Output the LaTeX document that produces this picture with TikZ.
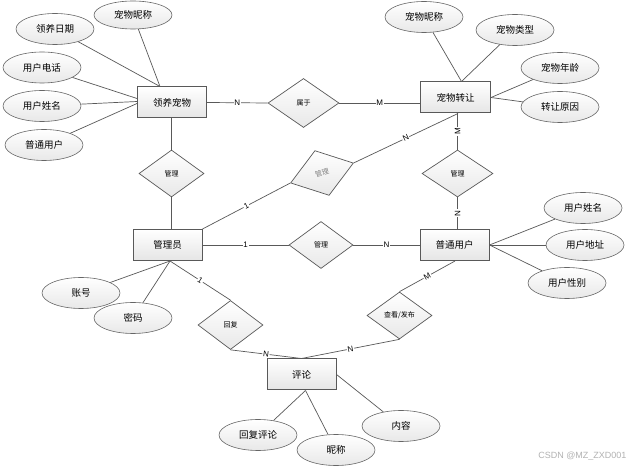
\documentclass[tikz,border=0pt]{standalone}
\usepackage{fontspec}
\setmainfont{Liberation Sans}
\newfontfamily\cjk{Noto Sans CJK SC}
\usetikzlibrary{shapes.geometric}
\begin{document}
\begin{tikzpicture}[x=1pt,y=-1pt,
 ent/.style={draw=black!65, line width=1pt, rectangle, minimum width=69pt, minimum height=31pt, inner sep=0pt, top color=white, bottom color=black!10, font=\cjk\fontsize{9.5}{10}\selectfont},
 attr/.style={draw=black!60, line width=0.6pt, ellipse, minimum width=78pt, minimum height=31pt, inner sep=0pt, top color=white, bottom color=black!9, font=\cjk\fontsize{9.5}{10}\selectfont},
 rel/.style={draw=black!65, line width=0.7pt, diamond, inner sep=0pt, minimum width=65pt, minimum height=47pt, top color=white, bottom color=black!9, font=\cjk\fontsize{7}{8}\selectfont},
 conn/.style={draw=black!65, line width=0.7pt},
 lab/.style={fill=white, inner sep=0.8pt, font=\fontsize{8}{9}\selectfont}
]
\useasboundingbox (0,0) rectangle (635,470);
\fill[white] (0,0) rectangle (635,470);
% entities
\node[ent] (E1) at (172,102.5) {领养宠物};
\node[ent, minimum width=70pt] (E2) at (455.5,97.5) {宠物转让};
\node[ent] (E3) at (167.5,245) {管理员};
\node[ent] (E4) at (454.5,245) {普通用户};
\node[ent] (E5) at (301.5,374.5) {评论};
% attributes
\node[attr, minimum height=28pt] (a1) at (133,15) {宠物昵称};
\node[attr] (a2) at (55,29) {领养日期};
\node[attr] (a3) at (42,67.5) {用户电话};
\node[attr] (a4) at (42,106) {用户姓名};
\node[attr] (a5) at (44,145) {普通用户};
\node[attr] (b1) at (424,17) {宠物昵称};
\node[attr] (b2) at (515,30) {宠物类型};
\node[attr] (b3) at (560,68) {宠物年龄};
\node[attr] (b4) at (560,107) {转让原因};
\node[attr] (c1) at (81,293) {账号};
\node[attr] (c2) at (133,318) {密码};
\node[attr] (d1) at (583,208) {用户姓名};
\node[attr] (d2) at (585,245) {用户地址};
\node[attr] (d3) at (567,283) {用户性别};
\node[attr] (f1) at (258,435) {回复评论};
\node[attr] (f2) at (336,450) {昵称};
\node[attr] (f3) at (401,426) {内容};
% relationships
\node[rel, minimum width=71pt, minimum height=49pt] (r1) at (303.5,103) {属于};
\node[rel] (r2) at (171.5,173.5) {管理};
\node[rel, rotate=17.6, minimum width=66pt, text=black!50] (r3) at (322,173) {管理};
\node[rel, minimum width=71pt] (r4) at (457.5,173.5) {管理};
\node[rel, minimum width=64pt] (r5) at (321,245) {管理};
\node[rel, minimum height=49pt] (r6) at (230.5,325) {回复};
\node[rel] (r7) at (399.5,315.5) {查看/发布};
% attribute links
\draw[conn] (a1) -- ([xshift=-12pt]E1.north);
\draw[conn] (a2) -- ([xshift=-12pt]E1.north);
\draw[conn] (a3) -- ([yshift=4pt]E1.west);
\draw[conn] (a4) -- ([yshift=1pt]E1.west);
\draw[conn] (a5) -- ([yshift=-1pt]E1.west);
\draw[conn] (b1) -- ([xshift=6pt]E2.north);
\draw[conn] (b2) -- ([xshift=6pt]E2.north);
\draw[conn] (b3) -- (E2.east);
\draw[conn] (b4) -- (E2.east);
\draw[conn] (c1) -- ([xshift=2.5pt]E3.south);
\draw[conn] (c2) -- ([xshift=2.5pt]E3.south);
\draw[conn] (d1) -- (E4.east);
\draw[conn] (d2) -- (E4.east);
\draw[conn] (d3) -- (E4.east);
\draw[conn] (f1) -- ([xshift=4pt]E5.south);
\draw[conn] (f2) -- ([xshift=4pt]E5.south);
\draw[conn] (f3) -- (E5.east);
% relationship links
\draw[conn] (E1.east) -- node[lab]{N} (r1.west);
\draw[conn] (r1.east) -- node[lab]{M} (r1.east -| E2.west);
\draw[conn] (r2.north |- E1.south) -- (r2.north);
\draw[conn] (r2.south) -- (r2.south |- E3.north);
\draw[conn] (E3.north east) -- node[lab,sloped]{1} (r3.west);
\draw[conn] (r3.east) -- node[lab,sloped]{N} ([xshift=2.5pt]E2.south);
\draw[conn] (r4.north) -- node[lab,rotate=90]{M} (r4.north |- E2.south);
\draw[conn] (r4.south) -- node[lab,rotate=90]{N} (r4.south |- E4.north);
\draw[conn] (E3.east) -- node[lab]{1} (r5.west);
\draw[conn] (r5.east) -- node[lab]{N} (E4.west);
\draw[conn] ([xshift=0.5pt]E4.south) -- node[lab,sloped]{M} (r7.north);
\draw[conn] (r7.south) -- node[lab,sloped]{N} (E5.north);
\draw[conn] (r6.south) -- node[lab,sloped]{N} (E5.north);
\draw[conn] ([xshift=2.5pt]E3.south) -- node[lab,sloped]{1} (r6.north);
% watermark
\node[text=black!30, font=\fontsize{9}{10}\selectfont, anchor=east] (wm) at (630,456) {CSDN @MZ\_ZXD001};
\end{tikzpicture}
\end{document}
